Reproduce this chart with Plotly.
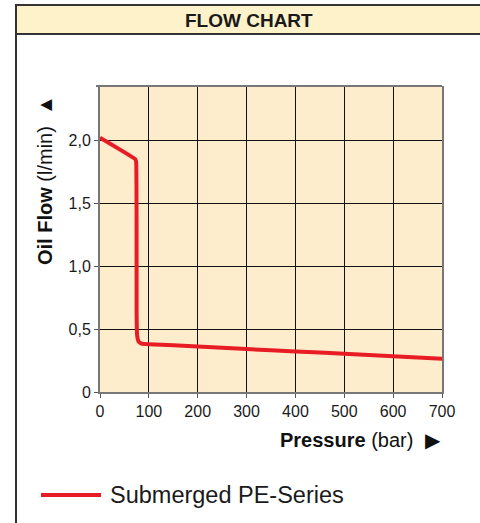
import plotly.graph_objects as go

# Data
pressure = [0, 72, 74, 75, 76, 79, 85, 100, 200, 300, 400, 500, 600, 700]
oil_flow = [2.02, 1.85, 1.83, 0.60, 0.45, 0.40, 0.385, 0.38, 0.362, 0.341, 0.322, 0.304, 0.283, 0.265]
series_name = "Submerged PE-Series"
x_ticks = [0, 100, 200, 300, 400, 500, 600, 700]
y_ticks = [0, 0.5, 1.0, 1.5, 2.0]
y_tick_text = ["0", "0,5", "1,0", "1,5", "2,0"]

W, H = 480, 523
L, R, T, B = 100, 38, 86, 131
pw, ph = W - L - R, H - T - B

def px(xp):
    return (xp - L) / pw

def py(yp):
    return (H - B - yp) / ph

FONT = "Liberation Sans, Arial, sans-serif"

fig = go.Figure()
fig.add_trace(go.Scatter(x=pressure, y=oil_flow, mode="lines", name=series_name,
                         line=dict(color="#e81c24", width=4, shape="spline", smoothing=0.3),
                         showlegend=False, hoverinfo="skip"))

shapes = [
    # title band
    dict(type="rect", xref="paper", yref="paper", x0=px(16), x1=px(480), y0=py(34), y1=py(5),
         fillcolor="#fdf2c9", line=dict(width=0), layer="below"),
    dict(type="line", xref="paper", yref="paper", x0=px(16), x1=px(480), y0=py(34), y1=py(34),
         line=dict(color="#333", width=2)),
    dict(type="line", xref="paper", yref="paper", x0=px(16), x1=px(480), y0=py(5), y1=py(5),
         line=dict(color="#333", width=2)),
    dict(type="line", xref="paper", yref="paper", x0=px(16), x1=px(16), y0=py(4), y1=py(523),
         line=dict(color="#333", width=2)),
    # top line of plot area
    dict(type="line", xref="paper", yref="paper", x0=px(96), x1=1, y0=1, y1=1,
         line=dict(color="#777", width=2)),
    # legend swatch
    dict(type="line", xref="paper", yref="paper", x0=px(41), x1=px(101), y0=py(495), y1=py(495),
         line=dict(color="#e81c24", width=4)),
]

annotations = [
    dict(text="<b>FLOW CHART</b>", xref="paper", yref="paper", x=px(249), y=py(20),
         showarrow=False, font=dict(family=FONT, size=19, color="#1a1a1a"), xanchor="center", yanchor="middle"),
    dict(text="<b>Oil Flow</b> (l/min)  ▲", xref="paper", yref="paper", x=px(45), y=py(180),
         textangle=-90, showarrow=False, font=dict(family=FONT, size=20, color="#111"),
         xanchor="center", yanchor="middle"),
    dict(text="<b>Pressure</b> (bar)  ▶", xref="paper", yref="paper", x=px(443), y=py(440),
         showarrow=False, font=dict(family=FONT, size=20, color="#111"),
         xanchor="right", yanchor="middle"),
    dict(text=series_name, xref="paper", yref="paper", x=px(108), y=py(495),
         showarrow=False, font=dict(family=FONT, size=23.5, color="#1a1a1a"),
         xanchor="left", yanchor="middle"),
]

fig.update_layout(
    width=W, height=H,
    margin=dict(l=L, r=R, t=T, b=B),
    paper_bgcolor="white", plot_bgcolor="#fdedcd",
    separators=",.",
    shapes=shapes, annotations=annotations,
    showlegend=False,
    xaxis=dict(range=[0, 700], tickvals=x_ticks, showgrid=True, gridcolor="#111", gridwidth=1,
               zeroline=False, showline=True, linecolor="#777", linewidth=2, mirror=False,
               ticks="outside", ticklen=4, tickcolor="#555",
               tickfont=dict(family=FONT, size=16, color="#1a1a1a")),
    yaxis=dict(range=[0, 2.43], tickvals=y_ticks, ticktext=y_tick_text, showgrid=True,
               gridcolor="#111", gridwidth=1, zeroline=False, showline=True, linecolor="#777",
               linewidth=2, mirror=True, ticks="outside", ticklen=4, tickcolor="#555",
               tickfont=dict(family=FONT, size=16, color="#1a1a1a")),
)

post = (
    "var s=document.createElement('style');"
    "s.textContent='html,body{margin:0;padding:0;overflow:hidden;width:480px;height:523px;scrollbar-width:none;}"
    "::-webkit-scrollbar{display:none;width:0;height:0;}';"
    "document.head.appendChild(s);"
)

fig.write_html("out.html", config={"displayModeBar": False}, post_script=post)
